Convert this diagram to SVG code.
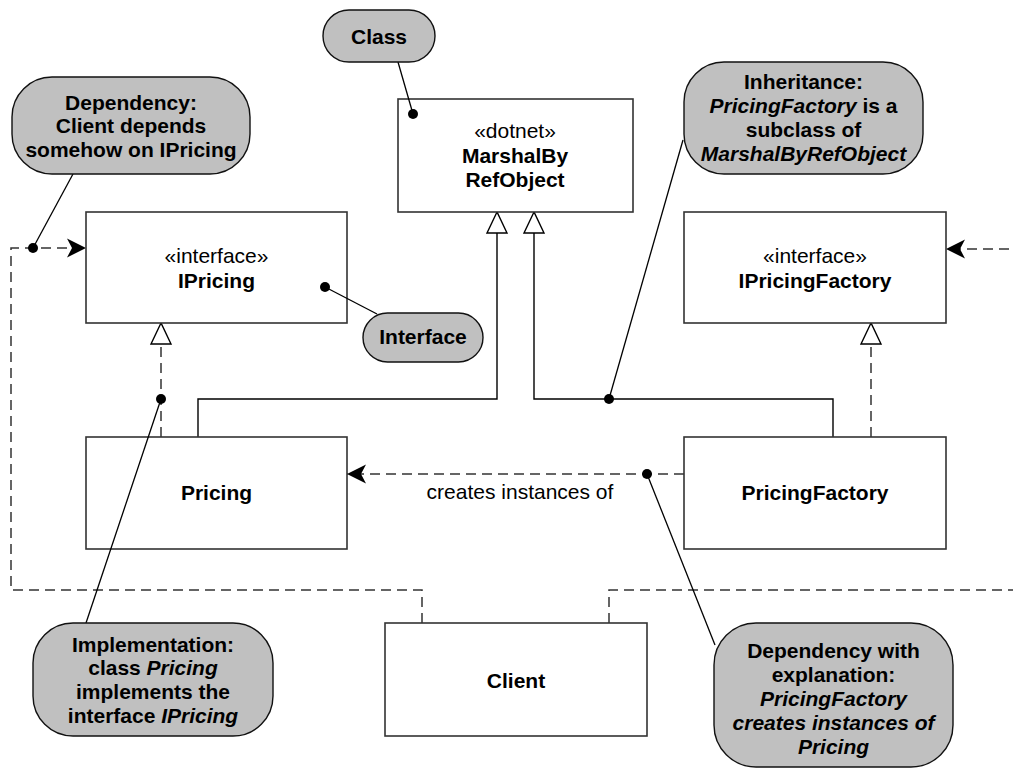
<svg xmlns="http://www.w3.org/2000/svg" width="1013" height="770" viewBox="0 0 1013 770">
  <style>
    text { font-family: "Liberation Sans", Arial, Helvetica, sans-serif; font-size: 21px; fill: #000; text-anchor: middle; }
    .b { font-weight: bold; }
    .i { font-style: italic; }
    .box { fill: #fff; stroke: #333; stroke-width: 1.6; }
    .note { fill: #c0c0c0; stroke: #111; stroke-width: 1.4; }
    .leader { fill: none; stroke: #000; stroke-width: 1.3; }
    .solid { fill: none; stroke: #000; stroke-width: 1.4; }
    .dash { fill: none; stroke: #333; stroke-width: 1.5; stroke-dasharray: 10 6; }
    .dot { fill: #000; }
  </style>
  <defs>
    <!-- open triangle for generalization / realization -->
    <marker id="tri" markerUnits="userSpaceOnUse" markerWidth="24" markerHeight="24" viewBox="-22 -12 24 24" refX="0" refY="0" orient="auto">
      <path d="M0,0 L-21,-10 L-21,10 Z" fill="#fff" stroke="#000" stroke-width="1.4"/>
    </marker>
    <!-- filled barbed arrow for dependency -->
    <marker id="dep" markerUnits="userSpaceOnUse" markerWidth="24" markerHeight="24" viewBox="-22 -12 24 24" refX="0" refY="0" orient="auto">
      <path d="M0,0 L-19,-9.5 L-14,0 L-19,9.5 Z" fill="#000"/>
    </marker>
  </defs>

  <!-- connectors -->
  <g id="connectors">
    <!-- Pricing generalizes MarshalByRefObject -->
    <path class="solid" d="M198,437 V399 H497 V212" marker-end="url(#tri)"/>
    <!-- PricingFactory generalizes MarshalByRefObject -->
    <path class="solid" d="M833,437 V399 H534 V212" marker-end="url(#tri)"/>
    <!-- Pricing realizes IPricing -->
    <path class="dash" d="M161,437 V323" marker-end="url(#tri)"/>
    <!-- PricingFactory realizes IPricingFactory -->
    <path class="dash" d="M871,437 V323" marker-end="url(#tri)"/>
    <!-- PricingFactory creates Pricing -->
    <path class="dash" d="M684,474 H347" marker-end="url(#dep)"/>
    <text x="520" y="499">creates instances of</text>
    <!-- Client depends on IPricing -->
    <path class="dash" d="M422,623 V590 H11 V248 H86" marker-end="url(#dep)"/>
    <!-- Client depends on IPricingFactory -->
    <path class="dash" d="M609,623 V590 H1030 V249 H946" marker-end="url(#dep)"/>
  </g>

  <!-- class boxes -->
  <g id="marshalbyrefobject">
    <rect class="box" x="398" y="99" width="235" height="113"/>
    <text x="515" y="138">«dotnet»</text>
    <text class="b" x="515" y="163">MarshalBy</text>
    <text class="b" x="515" y="187">RefObject</text>
  </g>
  <g id="ipricing">
    <rect class="box" x="86" y="212" width="261" height="111"/>
    <text x="216.5" y="263">«interface»</text>
    <text class="b" x="216.5" y="288">IPricing</text>
  </g>
  <g id="ipricingfactory">
    <rect class="box" x="684" y="212" width="262" height="111"/>
    <text x="815" y="263">«interface»</text>
    <text class="b" x="815" y="288">IPricingFactory</text>
  </g>
  <g id="pricing">
    <rect class="box" x="86" y="437" width="261" height="112"/>
    <text class="b" x="216.5" y="500">Pricing</text>
  </g>
  <g id="pricingfactory">
    <rect class="box" x="684" y="437" width="262" height="112"/>
    <text class="b" x="815" y="500">PricingFactory</text>
  </g>
  <g id="client">
    <rect class="box" x="385" y="623" width="262" height="113"/>
    <text class="b" x="516" y="688">Client</text>
  </g>

  <!-- annotation notes -->
  <g id="note-class">
    <path class="leader" d="M398,62 L413,114"/>
    <circle class="dot" cx="413" cy="114" r="5"/>
    <rect class="note" x="323" y="10" width="112" height="52" rx="26"/>
    <text class="b" x="379" y="44">Class</text>
  </g>
  <g id="note-dependency">
    <path class="leader" d="M73,174 L33,248"/>
    <circle class="dot" cx="33" cy="248" r="5"/>
    <rect class="note" x="12" y="77" width="238" height="97" rx="40"/>
    <text class="b" x="131" y="110">Dependency:</text>
    <text class="b" x="131" y="133">Client depends</text>
    <text class="b" x="131" y="157">somehow on IPricing</text>
  </g>
  <g id="note-interface">
    <path class="leader" d="M325,287 L377,314"/>
    <circle class="dot" cx="325" cy="287" r="5"/>
    <rect class="note" x="363" y="313" width="120" height="49" rx="24.5"/>
    <text class="b" x="423" y="344">Interface</text>
  </g>
  <g id="note-inheritance">
    <path class="leader" d="M683,140 L609,399"/>
    <circle class="dot" cx="609" cy="399" r="5"/>
    <rect class="note" x="684" y="62" width="239" height="112" rx="40"/>
    <text class="b" x="803.5" y="89">Inheritance:</text>
    <text class="b" x="803.5" y="113"><tspan class="i">PricingFactory</tspan> is a</text>
    <text class="b" x="803.5" y="137">subclass of</text>
    <text class="b i" x="803.5" y="161">MarshalByRefObject</text>
  </g>
  <g id="note-implementation">
    <path class="leader" d="M161,399 L86,623"/>
    <circle class="dot" cx="161" cy="399" r="5"/>
    <rect class="note" x="33" y="623" width="240" height="113" rx="40"/>
    <text class="b" x="153" y="652">Implementation:</text>
    <text class="b" x="153" y="675">class <tspan class="i">Pricing</tspan></text>
    <text class="b" x="153" y="699">implements the</text>
    <text class="b" x="153" y="723">interface <tspan class="i">IPricing</tspan></text>
  </g>
  <g id="note-dependency-explained">
    <path class="leader" d="M647,474 L715,645"/>
    <circle class="dot" cx="647" cy="474" r="5"/>
    <rect class="note" x="714" y="623" width="239" height="144" rx="42"/>
    <text class="b" x="833.5" y="658">Dependency with</text>
    <text class="b" x="833.5" y="682">explanation:</text>
    <text class="b i" x="833.5" y="706">PricingFactory</text>
    <text class="b i" x="833.5" y="730">creates instances of</text>
    <text class="b i" x="833.5" y="754">Pricing</text>
  </g>
</svg>
